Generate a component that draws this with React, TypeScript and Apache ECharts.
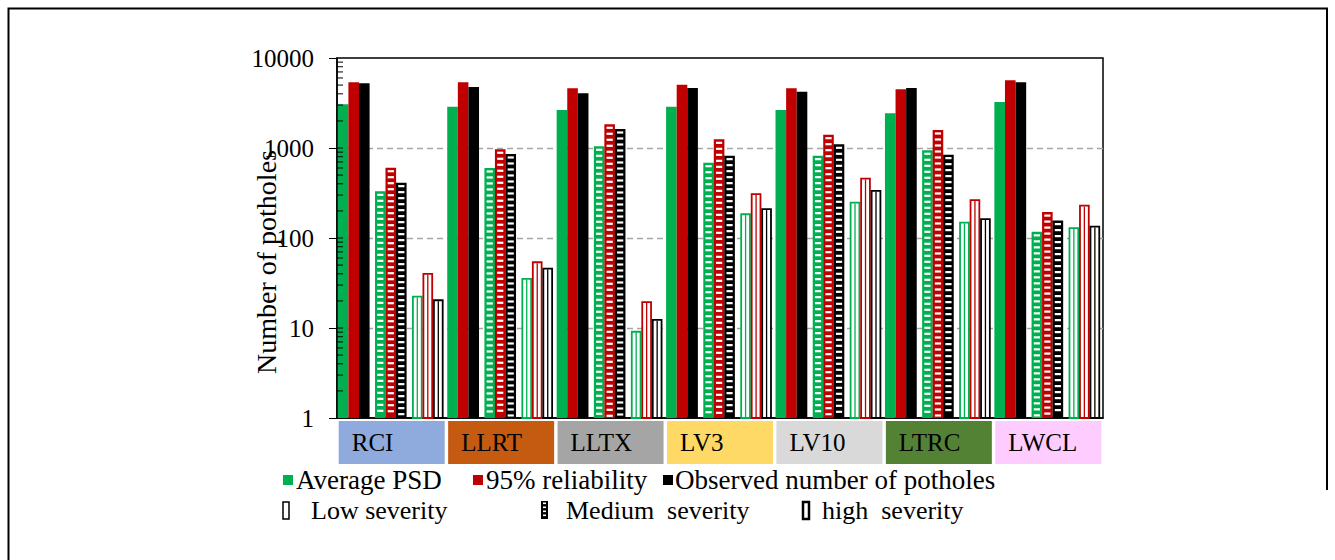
import React, { useEffect, useRef } from "react";
import * as echarts from "echarts";

const categories = ["RCI", "LLRT", "LLTX", "LV3", "LV10", "LTRC", "LWCL"];
const categoryColors = ["#8FAADC", "#C55A11", "#A5A5A5", "#FFD966", "#D9D9D9", "#548235", "#FFCCFF"];

// first group (solid bars)
const avgPsdLow = [3060, 2880, 2645, 2880, 2645, 2430, 3245];
const rel95Low = [5370, 5370, 4600, 5055, 4600, 4490, 5650];
const observedLow = [5230, 4760, 4050, 4640, 4225, 4640, 5370];
// second group (horizontal stripes)
const avgPsdMedium = [330, 600, 1045, 687, 822, 943, 117];
const rel95Medium = [604, 968, 1834, 1248, 1406, 1585, 194];
const observedMedium = [412, 858, 1626, 822, 1099, 844, 156];
// third group (outlined)
const avgPsdHigh = [22.8, 35.9, 9.3, 188, 253, 152, 132];
const rel95High = [40.8, 55, 19.8, 314, 468, 269, 234];
const observedHigh = [20.8, 46.8, 12.6, 214, 341, 166, 137];

const yTicks = [1, 10, 100, 1000, 10000];
const minorTickValues = [
  2, 3, 4, 5, 6, 7, 8, 9,
  20, 30, 40, 50, 60, 70, 80, 90,
  200, 300, 400, 500, 600, 700, 800, 900,
  2000, 3000, 4000, 5000, 6000, 7000, 8000, 9000,
];

const GREEN = "#00B050";
const RED = "#C00000";
const BLACK = "#000000";
const FONT = "Liberation Serif, Times New Roman, serif";

const BAND_REF = 109.43;
const SLOT_X = [0.8, 11.4, 22.0, 38.0, 48.5, 59.0, 75.0, 85.5, 96.0];
const BAR_W = 10.6;

type Kind = "solid" | "striped" | "hollow";

function makeRender(slot: number, kind: Kind, color: string) {
  return (params: any, api: any) => {
    const cat = api.value(0);
    const v = api.value(1);
    const band = api.size([1, 0])[0];
    const k = band / BAND_REF;
    const basePt = api.coord([cat, 1]);
    const top = api.coord([cat, v])[1];
    const base = basePt[1];
    const x = basePt[0] - band / 2 + SLOT_X[slot] * k;
    const w = BAR_W * k;
    const h = base - top;
    if (kind === "solid") {
      return { type: "rect", shape: { x, y: top, width: w, height: h }, style: { fill: color } };
    }
    if (kind === "striped") {
      const children: any[] = [
        { type: "rect", shape: { x, y: top, width: w, height: h }, style: { fill: color } },
      ];
      const inset = 2.2;
      for (let y = top + 2.4; y + 2.2 <= base - 1; y += 6) {
        children.push({
          type: "rect",
          shape: { x: x + inset, y, width: w - 2 * inset, height: 2.2 },
          style: { fill: "#ffffff" },
        });
      }
      return { type: "group", children };
    }
    const lw = 1.8;
    return {
      type: "group",
      children: [
        {
          type: "rect",
          shape: { x: x + lw / 2, y: top + lw / 2, width: w - lw, height: h - lw / 2 },
          style: { fill: "#ffffff", stroke: color, lineWidth: lw },
        },
        {
          type: "line",
          shape: { x1: x + w / 2, y1: top + lw, x2: x + w / 2, y2: base },
          style: { stroke: color, lineWidth: 1.3 },
        },
      ],
    };
  };
}

const seriesDefs: { name: string; values: number[]; kind: Kind; color: string }[] = [
  { name: "Average PSD", values: avgPsdLow, kind: "solid", color: GREEN },
  { name: "95% reliability", values: rel95Low, kind: "solid", color: RED },
  { name: "Observed number of potholes", values: observedLow, kind: "solid", color: BLACK },
  { name: "Average PSD (medium)", values: avgPsdMedium, kind: "striped", color: GREEN },
  { name: "95% reliability (medium)", values: rel95Medium, kind: "striped", color: RED },
  { name: "Observed (medium)", values: observedMedium, kind: "striped", color: BLACK },
  { name: "Average PSD (high)", values: avgPsdHigh, kind: "hollow", color: GREEN },
  { name: "95% reliability (high)", values: rel95High, kind: "hollow", color: RED },
  { name: "Observed (high)", values: observedHigh, kind: "hollow", color: BLACK },
];

function buildOption(): any {
  const rich: any = {};
  categories.forEach((c, i) => {
    rich["c" + i] = {
      backgroundColor: categoryColors[i],
      width: 93,
      height: 43,
      padding: [0, 0, 0, 13],
      align: "left",
      verticalAlign: "middle",
      fontSize: 25,
      fontFamily: FONT,
      color: "#000",
      lineHeight: 43,
    };
  });

  const series: any[] = seriesDefs.map((d, slot) => ({
    type: "custom",
    name: d.name,
    coordinateSystem: "cartesian2d",
    data: d.values.map((v, i) => [i, v]),
    encode: { x: 0, y: 1 },
    renderItem: makeRender(slot, d.kind, d.color),
    z: 3,
  }));

  series.push({
    type: "custom",
    name: "minor ticks",
    coordinateSystem: "cartesian2d",
    data: minorTickValues.concat(yTicks.slice(1, 4)).map((v) => [0, v]),
    encode: { x: 0, y: 1 },
    silent: true,
    z: 5,
    renderItem: (params: any, api: any) => {
      const y = api.coord([0, api.value(1)])[1];
      const x = params.coordSys.x;
      return { type: "line", shape: { x1: x, y1: y, x2: x + 6, y2: y }, style: { stroke: "#000", lineWidth: 1 } };
    },
  });

  const legendTop = 480;
  const legendBottom = 510;
  const txt = (x: number, y: number, text: string, size: number) => ({
    type: "text",
    x,
    y,
    style: { text, fontSize: size, fontFamily: FONT, fill: "#000", verticalAlign: "middle", align: "left" },
  });

  const stripes: any[] = [];
  for (let y = 502.5; y < 518; y += 4) {
    stripes.push({ type: "rect", shape: { x: 543, y, width: 3, height: 1.6 }, style: { fill: "#fff" } });
  }

  const graphic: any[] = [
    {
      type: "polyline",
      shape: { points: [[8.5, 560], [8.5, 8.5], [1327, 8.5], [1327, 490]] },
      style: { stroke: "#000", lineWidth: 2, fill: "none" },
    },
    {
      type: "text",
      x: 266,
      y: 262,
      rotation: Math.PI / 2,
      style: {
        text: "Number of potholes",
        fontSize: 28,
        fontFamily: FONT,
        fill: "#000",
        align: "center",
        verticalAlign: "middle",
      },
    },
    { type: "rect", shape: { x: 283, y: legendTop - 5, width: 10, height: 10 }, style: { fill: GREEN } },
    txt(296, legendTop, "Average PSD", 27),
    { type: "rect", shape: { x: 473, y: legendTop - 5, width: 10, height: 10 }, style: { fill: RED } },
    txt(486, legendTop, "95% reliability", 27),
    { type: "rect", shape: { x: 663, y: legendTop - 5, width: 10, height: 10 }, style: { fill: BLACK } },
    txt(675, legendTop, "Observed number of potholes", 27),
    {
      type: "rect",
      shape: { x: 283, y: legendBottom - 8, width: 6, height: 17 },
      style: { fill: "#fff", stroke: "#000", lineWidth: 1.5 },
    },
    txt(311, legendBottom, "Low severity", 26),
    { type: "rect", shape: { x: 541, y: legendBottom - 9, width: 7, height: 18 }, style: { fill: "#000" } },
    ...stripes,
    txt(566, legendBottom, "Medium  severity", 26),
    {
      type: "rect",
      shape: { x: 803, y: legendBottom - 8, width: 6, height: 17 },
      style: { fill: "#fff", stroke: "#000", lineWidth: 2.5 },
    },
    txt(822, legendBottom, "high  severity", 26),
  ];

  return {
    animation: false,
    backgroundColor: "#ffffff",
    grid: {
      left: 337,
      right: 232,
      top: 58,
      bottom: 142,
      show: true,
      borderColor: "#000",
      borderWidth: 1.5,
      backgroundColor: "transparent",
    },
    xAxis: {
      type: "category",
      data: categories,
      axisTick: { show: false },
      axisLine: { lineStyle: { color: "#000", width: 1.5 } },
      axisLabel: {
        interval: 0,
        margin: 3,
        formatter: (value: string, index: number) => `{c${index}|${value}}`,
        rich,
      },
      splitLine: { show: false },
    },
    yAxis: {
      type: "log",
      logBase: 10,
      min: 1,
      max: 10000,
      axisLine: { show: true, lineStyle: { color: "#000", width: 1.5 } },
      axisTick: { show: true, length: 8, lineStyle: { color: "#000", width: 1 } },
      axisLabel: {
        fontSize: 25,
        fontFamily: FONT,
        color: "#000",
        margin: 23,
        formatter: (v: number) => String(Math.round(v)),
      },
      splitLine: {
        show: true,
        showMinLine: false,
        showMaxLine: false,
        lineStyle: { color: "#A6A6A6", type: [6, 4], width: 1.3 },
      },
      minorTick: { show: false },
    },
    graphic,
    series,
  };
}

export default function App() {
  const ref = useRef<HTMLDivElement>(null);
  useEffect(() => {
    if (!ref.current) return;
    const chart = echarts.init(ref.current, undefined, { renderer: "svg" });
    chart.setOption(buildOption());
    return () => chart.dispose();
  }, []);
  return (
    <div style={{ position: "fixed", left: 0, top: 0, width: 1335, height: 560, background: "#fff" }}>
      <div ref={ref} style={{ width: 1335, height: 560 }} />
    </div>
  );
}
